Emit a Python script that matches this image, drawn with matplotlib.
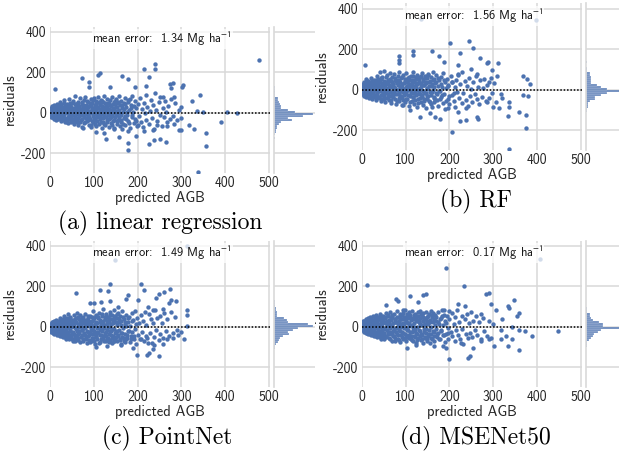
import matplotlib
matplotlib.use('Agg')
import matplotlib.pyplot as plt
import numpy as np

plt.rcParams.update({'font.family'         : 'cmss10',
                     'axes.unicode_minus'  : False,
                     'mathtext.fontset'    : 'stixsans',
                     'font.size'           : 10})

blue   = '#4c72b0'
gridc  = '0.85'
W, H   = 619., 457.

# ------------------------------- data
# residual vs predicted AGB, (predicted, residual)
linreg_pts = [
 (476,262),(240,243),(214,218),(239,218),(114,198),(109,185),(73,174),(165,184),(177,166),(225,179),
 (89,151),(12,116),(88,126),(137,125),(195,128),(220,131),(273,144),(280,148),(304,138),(301,128),
 (342,90),(275,121),(257,77),(284,77),(325,56),(298,28),(336,10),(350,3),(403,3),(427,-2),
 (391,-46),(317,-59),(298,-85),(329,-82),(355,-100),(355,-166),(337,-292),(179,-184),(177,-148),(238,-133),
 (250,-128),(227,-156),(265,-144),(294,-87),(283,-56),(268,-67),(245,-59),(236,-87),(197,-113),(157,-121),
 (128,-130),(104,-97),(124,-100),(177,-92),(215,-89),(75,-75),(94,-59),(147,-75),(200,-59),
 (2,5),(3,-8),(4,18),(5,-20),(6,30),(7,-3),(8,12),(9,-28),(10,40),(11,-15),(12,2),(13,22),
 (14,-35),(15,8),(16,45),(17,-10),(18,28),(19,-22),(20,0),(22,55),(23,15),(24,-40),(25,-5),(26,35),
 (27,20),(28,-25),(29,5),(30,-15),(32,48),(33,62),(34,-45),(35,10),(36,25),(37,-30),(38,-2),(40,38),
 (41,-50),(42,15),(44,70),(45,-20),(46,50),(47,0),(48,-38),(49,30),(50,-10),(52,60),(53,20),(54,-55),
 (55,5),(56,42),(57,-28),(58,85),(59,28),(60,-8),(62,-45),(63,55),(64,12),(65,-62),(66,35),(67,-18),
 (68,72),(69,0),(70,-35),(72,45),(73,-70),(74,18),(75,30),(76,-5),(77,62),(78,-50),(80,8),(81,80),
 (82,-25),(83,40),(84,-40),(85,22),(86,-12),(87,55),(88,-60),(89,5),(90,35),(92,-30),(93,68),(94,-72),
 (95,15),(96,48),(97,-15),(98,25),(99,-48),(100,75),(101,-5),(102,38),(103,-35),(104,58),(105,10),(106,-65),
 (107,30),(108,-20),(109,80),(110,0),(112,-55),(113,45),(114,20),(115,-30),(116,65),(117,-8),(118,-75),(119,35),
 (120,10),(121,-45),(122,55),(123,-18),(124,85),(125,25),(126,-60),(127,5),(128,40),(129,-35),(130,70),(132,-10),
 (133,50),(134,-70),(135,18),(136,-25),(137,62),(138,0),(139,-50),(140,35),(141,78),(142,-15),(143,20),(144,-40),
 (145,55),(146,-78),(147,8),(148,42),(149,-22),(150,68),(152,-55),(153,28),(154,-5),(155,48),(156,-35),(157,85),
 (158,12),(159,-65),(160,38),(161,-12),(162,60),(163,-45),(164,22),(165,-80),(166,2),(168,50),(169,-28),(170,75),
 (172,-60),(174,30),(175,-10),(177,55),(178,-40),(180,15),(182,70),(183,-75),(185,40),(186,-20),(188,85),(190,5),
 (191,-50),(193,60),(195,-30),(196,25),(198,-65),(200,45),(203,-15),(205,75),(207,-45),(210,20),(212,-70),(214,50),
 (216,0),(218,-35),(220,90),(222,30),(225,-55),(228,10),(230,65),(232,-25),(235,40),(238,-80),(240,100),(242,15),
 (245,-40),(248,55),(250,-10),(252,80),(255,-65),(258,25),(260,-20),(262,60),(265,5),(268,-45),(270,35),(274,-30),
 (276,70),(280,-15),(285,50),(290,-35),(295,15),(300,-25)]
linreg_core = [
 (1,12),(1,-10),(2,25),(3,-22),(4,0),(5,35),(6,-12),(7,20),(8,-30),(9,5),(10,-5),(11,28),(12,-25),(13,8),
 (14,15),(15,-18),(16,2),(17,32),(18,-30),(19,12),(20,22),(21,-12),(21,40),(22,-28),(23,-2),(24,18),(25,45),
 (26,-32),(27,5),(28,30),(29,-15),(30,12),(31,-38),(32,22),(33,-8),(34,35),(35,-28),(36,2),(37,18),(38,-45),
 (39,45),(40,8),(41,-20),(42,30),(43,-5),(44,-32),(45,38),(46,15),(47,-48),(48,22),(49,-18),(50,50),(51,0),
 (52,-30),(54,25),(55,-40),(56,12),(58,-15),(59,42),(60,20),(61,-35),(62,5),(64,-25),(65,48),(66,-2),(67,30),
 (68,-45),(70,15),(71,-12),(72,55),(74,-30),(75,0),(76,40),(78,-20),(79,25),(80,-45),(82,12),(83,-5),(84,58),
 (86,30),(87,-35),(88,10),(90,-20),(91,50),(92,0),(94,35),(95,-40),(96,18),(98,-8),(99,62),(100,-25),(102,12),
 (103,-55),(104,28),(106,45),(107,-10),(108,-40),(110,22),(111,55),(112,5),(114,-15),(115,38),(116,-45),(118,12),
 (119,60),(120,-25),(122,30),(123,-5),(124,-55),(126,48),(127,-20),(128,15),(130,-45),(131,30),(132,8),(134,50),
 (135,-30),(136,-5),(138,40),(139,-20),(140,12),(142,-60),(143,45),(144,0),(146,25),(147,-35),(148,60),(150,-10),
 (151,30),(152,-40),(154,10),(156,55),(158,-20),(160,0),(162,-35),(164,40),(166,-55),(168,20),(170,-15),(172,45),
 (174,-30),(176,5),(178,65),(180,-50),(184,25),(188,-10),(192,35),(196,-40)]

rf_pts = [
 (397,346),(136,348),(245,243),(202,233),(253,205),(225,182),(118,190),(117,174),(161,190),(85,165),
 (85,149),(85,130),(177,167),(270,156),(289,136),(285,130),(310,134),(188,138),(219,121),(7,121),
 (368,66),(378,52),(384,28),(380,-31),(369,-26),(336,-59),(336,-84),(358,-108),(376,-125),(333,-128),
 (376,-187),(335,-292),(205,-210),(132,-136),(167,-136),(179,-144),(224,-152),(238,-151),(262,-136),(266,-146),
 (314,-89),(299,-84),(287,-59),(321,-43),(317,-23),(308,69),(298,97),(291,39),(264,80),(249,105),
 (219,80),(238,-92),(219,-108),(196,-92),(92,-75),(111,-100),(155,-116),
 (2,10),(3,-12),(4,25),(5,-25),(6,40),(7,0),(8,15),(9,-35),(10,55),(11,-8),(12,30),(13,-20),
 (14,5),(15,45),(16,-40),(17,20),(18,-5),(19,35),(20,-28),(22,60),(23,10),(24,-45),(25,25),(26,-15),
 (27,50),(28,0),(29,-30),(30,38),(32,-50),(33,15),(34,70),(35,-20),(36,45),(37,-5),(38,28),(40,-38),
 (41,88),(42,8),(43,-55),(44,55),(45,20),(46,-25),(47,65),(48,-8),(49,35),(50,-45),(52,92),(53,12),
 (54,-60),(55,40),(56,-18),(57,72),(58,2),(59,-35),(60,50),(62,25),(63,-50),(64,85),(65,-10),(66,45),
 (67,-65),(68,15),(69,62),(70,-28),(72,30),(73,-5),(74,80),(75,-45),(76,50),(77,10),(78,-70),(80,35),
 (81,-20),(82,68),(83,0),(84,-55),(85,42),(86,90),(87,-30),(88,20),(89,-8),(90,58),(92,-42),(93,28),
 (94,-75),(95,75),(96,5),(97,-25),(98,45),(99,-60),(100,15),(101,82),(102,-12),(103,38),(104,-45),(105,60),
 (106,-3),(107,-80),(108,25),(109,50),(110,-30),(112,70),(113,-15),(114,32),(115,-55),(116,8),(117,88),(118,-38),
 (119,48),(120,-70),(121,18),(122,-5),(123,62),(124,-25),(125,35),(126,-85),(127,75),(128,0),(129,-48),(130,42),
 (132,-20),(133,65),(134,10),(135,-60),(136,30),(137,-35),(138,85),(139,-8),(140,52),(141,-75),(142,22),(143,-45),
 (144,70),(145,-15),(146,40),(147,-90),(148,5),(149,58),(150,-30),(152,80),(153,-55),(154,18),(155,-10),(156,45),
 (157,-70),(158,65),(159,-25),(160,28),(161,-85),(162,90),(163,0),(164,-40),(165,55),(166,-60),(168,35),(169,-15),
 (170,75),(172,-50),(174,20),(175,-78),(177,48),(178,-5),(180,62),(182,-35),(183,15),(185,-65),(186,82),(188,-20),
 (190,40),(191,-95),(193,8),(195,55),(196,-45),(198,25),(200,-70),(203,68),(205,-25),(207,38),(210,-55),(212,12),
 (214,-85),(216,50),(218,-10),(220,75),(222,-40),(225,30),(228,-65),(230,90),(232,-15),(235,45),(238,-50),(240,20),
 (242,-80),(245,60),(248,-30),(250,5),(252,-60),(255,40),(258,-20),(260,70),(262,-45),(265,15),(268,-70),(270,48),
 (274,-35),(276,10),(280,55),(283,-55),(286,25),(290,-40),(294,60),(298,-15),(302,35),(306,-60)]
rf_core = [
 (1,-8),(1,15),(2,-20),(3,28),(4,-2),(5,-32),(6,12),(7,-15),(8,32),(9,-5),(10,18),(11,-28),(12,42),(13,-10),
 (14,22),(15,-2),(16,30),(17,-25),(18,10),(19,-15),(20,40),(21,5),(21,-35),(22,25),(23,-18),(24,45),(25,-8),
 (26,15),(27,-38),(28,32),(29,-2),(30,20),(31,-25),(32,48),(33,5),(34,-35),(35,28),(36,-12),(37,52),(38,8),
 (39,-42),(40,20),(41,-5),(42,40),(43,-28),(44,15),(45,58),(46,-45),(47,25),(48,-15),(49,2),(50,45),(51,-32),
 (52,18),(54,-8),(55,62),(56,30),(58,-40),(59,10),(60,-20),(61,38),(62,-2),(64,55),(65,20),(66,-30),(67,-50),
 (68,40),(70,-10),(71,28),(72,-38),(74,12),(75,60),(76,-22),(78,45),(79,0),(80,-55),(82,22),(83,50),(84,-15),
 (86,-40),(87,10),(88,38),(90,-30),(91,65),(92,15),(94,-10),(95,-50),(96,32),(98,55),(99,-20),(100,5),(102,-45),
 (103,40),(104,18),(106,-25),(107,62),(108,8),(110,-60),(111,30),(112,-5),(114,48),(115,20),(116,-35),(118,70),
 (119,-15),(120,40),(122,-50),(123,12),(124,55),(126,-20),(127,28),(128,-65),(130,60),(131,-8),(132,35),(134,-40),
 (135,15),(136,68),(138,-25),(139,45),(140,-5),(142,25),(143,-55),(144,58),(146,-15),(147,35),(148,-45),(150,10),
 (151,72),(152,-30),(154,40),(156,-60),(158,20),(160,-10),(162,50),(164,-35),(166,15),(168,-50),(170,38),(172,-20),
 (174,60),(176,-5),(178,-45),(180,28),(184,-25),(188,50),(192,-55),(196,18),(200,-30),(205,40),(210,-15)]

pointnet_pts = [
 (312,400),(148,328),(208,211),(136,211),(114,180),(132,175),(60,166),(177,156),(215,180),(274,187),
 (261,170),(249,161),(242,141),(276,130),(287,125),(272,118),(92,118),(101,118),(117,121),(138,125),
 (156,97),(174,138),(200,131),(223,97),(236,85),(257,89),(312,85),(312,57),(312,2),(298,-26),
 (306,-59),(291,-43),(280,-54),(268,-62),(257,-85),(238,-89),(223,-79),(234,-111),(227,-128),(221,-138),
 (249,-146),(198,-139),(189,-105),(162,-87),(130,-95),(105,-100),(174,-62),(147,-70),(208,-62),
 (2,8),(3,-10),(4,18),(5,-18),(6,25),(7,-2),(8,12),(9,-28),(10,30),(11,-8),(12,5),(13,-20),
 (14,35),(15,15),(16,-35),(17,0),(18,22),(19,-12),(20,-40),(22,45),(23,8),(24,-25),(25,28),(26,-5),
 (27,-45),(28,15),(29,38),(30,-18),(32,55),(33,-30),(34,5),(35,-50),(36,25),(37,-12),(38,42),(40,-35),
 (41,65),(42,10),(43,-55),(44,30),(45,-20),(46,48),(47,-2),(48,-40),(49,20),(50,-60),(52,35),(53,-25),
 (54,60),(55,0),(56,-45),(57,22),(58,-70),(59,45),(60,-10),(62,70),(63,-35),(64,12),(65,-55),(66,38),
 (67,-20),(68,58),(69,-75),(70,5),(72,-42),(73,28),(74,-15),(75,50),(76,-60),(77,18),(78,-30),(80,65),
 (81,-5),(82,-50),(83,35),(84,-80),(85,10),(86,45),(87,-25),(88,-65),(89,22),(90,-40),(92,55),(93,-10),
 (94,-70),(95,30),(96,-35),(97,78),(98,0),(99,-55),(100,42),(101,-20),(102,-85),(103,15),(104,60),(105,-45),
 (106,25),(107,-5),(108,-62),(109,48),(110,-30),(112,70),(113,-15),(114,35),(115,-75),(116,8),(117,-40),(118,55),
 (119,-22),(120,20),(121,-60),(122,88),(123,-8),(124,-48),(125,40),(126,-30),(127,65),(128,-70),(129,12),(130,-15),
 (132,50),(133,-55),(134,25),(135,-35),(136,75),(137,0),(138,-65),(139,40),(140,-20),(141,60),(142,-80),(143,18),
 (144,-45),(145,85),(146,-10),(147,35),(148,-58),(149,52),(150,-28),(152,8),(153,-70),(154,45),(155,-40),(156,70),
 (157,-15),(158,22),(159,-62),(160,55),(161,-30),(162,-88),(163,30),(164,-50),(165,78),(166,-5),(168,40),(169,-72),
 (170,15),(172,-35),(174,60),(175,-55),(177,25),(178,-20),(180,50),(182,-75),(183,5),(185,-45),(186,68),(188,-25),
 (190,35),(191,-62),(193,80),(195,-10),(196,-85),(198,45),(200,-40),(203,20),(205,-60),(207,58),(210,-25),(212,30),
 (214,-70),(216,72),(218,-45),(220,10),(222,-55),(225,62),(228,-30),(230,38),(232,-78),(235,20),(238,-50),(240,85),
 (242,-15),(245,45),(248,-65),(250,55),(252,-35),(255,18),(258,-55),(260,70),(264,-20),(268,40),(272,-45),(276,75),
 (280,-30),(285,50),(290,-15)]
pointnet_core = [
 (1,10),(1,-12),(2,-25),(3,15),(4,-5),(5,22),(6,-30),(7,5),(8,-15),(9,18),(10,-35),(11,10),(12,-28),(13,25),
 (14,-8),(15,-40),(16,18),(17,-22),(18,5),(19,30),(20,-15),(21,-32),(21,12),(22,-48),(23,25),(24,-10),(25,10),
 (26,-35),(27,22),(28,-20),(29,-52),(30,30),(31,0),(32,-28),(33,18),(34,-42),(35,40),(36,-5),(37,-60),(38,15),
 (39,-25),(40,32),(41,-45),(42,0),(43,20),(44,-62),(45,45),(46,-15),(47,25),(48,-52),(49,8),(50,30),(51,-30),
 (52,-70),(54,15),(55,-35),(56,40),(58,-55),(59,-5),(60,25),(61,-42),(62,-20),(64,50),(65,-65),(66,0),(67,-30),
 (68,30),(70,-50),(71,18),(72,-15),(74,45),(75,-72),(76,-5),(78,35),(79,-40),(80,10),(82,-60),(83,25),(84,-20),
 (86,55),(87,-45),(88,5),(90,30),(91,-75),(92,-25),(94,15),(95,50),(96,-55),(98,-15),(99,35),(100,-68),(102,8),
 (103,-35),(104,55),(106,-50),(107,20),(108,-25),(110,42),(111,-78),(112,0),(114,-40),(115,25),(116,-58),(118,65),
 (119,-12),(120,-45),(122,30),(123,-70),(124,10),(126,50),(127,-25),(128,-48),(130,28),(131,-60),(132,0),(134,40),
 (135,-75),(136,-20),(138,60),(139,-40),(140,15),(142,-55),(143,35),(144,-10),(146,-68),(147,45),(148,-30),(150,25),
 (151,-50),(152,62),(154,-20),(156,-45),(158,38),(160,-65),(162,10),(164,-30),(166,50),(168,-55),(170,25),(172,-75),
 (174,5),(176,-40),(178,45),(180,-20),(184,-60),(188,30),(192,-45),(196,12)]

msenet_pts = [
 (407,334),(192,292),(12,205),(233,200),(291,167),(283,164),(147,164),(139,156),(111,154),(128,123),
 (79,138),(83,126),(55,107),(94,85),(348,134),(333,102),(336,93),(306,85),(295,110),(272,61),
 (321,36),(359,69),(355,52),(342,-2),(359,-16),(373,-20),(389,-44),(448,-20),(317,-16),(329,-46),
 (344,-62),(317,-62),(359,-116),(333,-95),(302,-95),(291,-62),(272,-70),(200,-161),(248,-143),(242,-152),
 (253,-103),(227,-79),(192,-103),(185,-95),(104,-103),(124,-92),(166,-95),(219,110),(236,102),(187,82),(200,77),
 (2,5),(3,-15),(4,20),(5,-8),(6,30),(7,-22),(8,10),(9,38),(10,-30),(11,0),(12,25),(13,-12),
 (14,45),(15,-38),(16,15),(17,-2),(18,35),(19,-25),(20,50),(22,-42),(23,8),(24,28),(25,-18),(26,55),
 (27,-48),(28,18),(29,-5),(30,40),(32,-30),(33,60),(34,2),(35,-52),(36,30),(37,-15),(38,48),(40,-40),
 (41,15),(42,62),(43,-25),(44,5),(45,-58),(46,38),(47,-8),(48,55),(49,-35),(50,22),(52,-62),(53,42),
 (54,-12),(55,68),(56,-45),(57,10),(58,30),(59,-28),(60,52),(62,-55),(63,18),(64,-5),(65,75),(66,-38),
 (67,35),(68,-68),(69,5),(70,48),(72,-20),(73,62),(74,-48),(75,25),(76,-70),(77,40),(78,-8),(80,80),
 (81,-35),(82,15),(83,-58),(84,50),(85,-15),(86,30),(87,-75),(88,65),(89,0),(90,-42),(92,38),(93,-25),
 (94,70),(95,-62),(96,12),(97,48),(98,-35),(99,82),(100,-5),(101,-72),(102,28),(103,55),(104,-50),(105,18),
 (106,-18),(107,75),(108,-40),(109,5),(110,60),(112,-60),(113,35),(114,-28),(115,78),(116,-8),(117,45),(118,-70),
 (119,20),(120,-45),(121,65),(122,-15),(123,32),(124,-82),(125,52),(126,0),(127,-35),(128,72),(129,-55),(130,25),
 (132,45),(133,-22),(134,80),(135,-65),(136,10),(137,55),(138,-40),(139,30),(140,-78),(141,68),(142,-10),(143,40),
 (144,-55),(145,15),(146,75),(147,-30),(148,50),(149,-68),(150,20),(152,-45),(153,62),(154,-15),(155,35),(156,-80),
 (157,78),(158,0),(159,-38),(160,48),(161,-60),(162,25),(163,70),(164,-25),(165,40),(166,-72),(168,58),(169,-10),
 (170,30),(172,-50),(174,75),(175,-30),(177,15),(178,-62),(180,45),(182,-20),(183,82),(185,-42),(186,8),(188,60),
 (190,-75),(191,28),(193,-35),(195,55),(196,-5),(198,-58),(200,38),(203,-25),(205,70),(207,-48),(210,15),(212,-70),
 (214,50),(216,-15),(218,85),(220,-40),(222,25),(225,-60),(228,55),(230,-10),(232,-85),(235,40),(238,-35),(240,65),
 (242,-55),(245,20),(248,-30),(250,75),(252,-50),(255,30),(258,-15),(260,55),(264,-40),(268,25),(272,-60),(276,45),
 (280,-20),(285,-45),(290,30),(295,-55),(300,15)]
msenet_core = [
 (1,8),(1,-5),(2,18),(3,-18),(4,28),(5,2),(6,-25),(7,12),(8,-8),(9,22),(10,-18),(11,35),(12,-2),(13,-30),
 (14,18),(15,5),(16,-22),(17,40),(18,-10),(19,8),(20,-35),(21,25),(21,-15),(22,42),(23,-28),(24,0),(25,20),
 (26,-40),(27,35),(28,-12),(29,12),(30,-25),(31,48),(32,5),(33,-45),(34,25),(35,-5),(36,45),(37,-32),(38,10),
 (39,-20),(40,38),(41,-50),(42,-2),(43,28),(44,-35),(45,55),(46,15),(47,-22),(48,-45),(49,40),(50,-5),(51,25),
 (52,-30),(54,50),(55,-50),(56,20),(58,-15),(59,60),(60,-38),(61,5),(62,35),(64,-25),(65,-60),(66,45),(67,10),
 (68,-30),(70,58),(71,-45),(72,20),(74,-10),(75,40),(76,-55),(78,25),(79,-25),(80,50),(82,-40),(83,0),(84,30),
 (86,-65),(87,45),(88,-20),(90,15),(91,-50),(92,60),(94,-30),(95,20),(96,-8),(98,-55),(99,40),(100,25),(102,-40),
 (103,65),(104,-15),(106,42),(107,-55),(108,20),(110,-25),(111,50),(112,-45),(114,10),(115,-65),(116,38),(118,-20),
 (119,58),(120,0),(122,-50),(123,45),(124,-30),(126,28),(127,-65),(128,55),(130,-15),(131,35),(132,-48),(134,15),
 (135,62),(136,-35),(138,-60),(139,28),(140,50),(142,-25),(143,10),(144,-50),(146,45),(147,-10),(148,30),(150,-60),
 (151,15),(152,55),(154,-35),(156,25),(158,-55),(160,60),(162,-20),(164,35),(166,-45),(168,10),(170,50),(172,-35),
 (174,25),(176,-60),(178,40),(180,-15),(184,52),(188,-40),(192,20),(196,-30)]

# marginal histograms: bin centres (residual) and bar lengths
hist_centres  = [-135,-125,-115,-105,-95,-85,-75,-65,-55,-45,-35,-25,-15,-5,
                 5,15,25,35,45,55,65,75,85,95,105,115,125,135]
linreg_hist   = [0,2,0,2,5,5,8,10,16,22,52,42,85,115,62,40,22,20,17,14,12,12,4,3,3,2,2,0]
rf_hist       = [2,0,2,3,5,6,8,8,12,26,27,45,62,115,62,45,33,15,15,15,15,13,13,5,5,2,2,3]
pointnet_hist = [0,0,0,3,3,7,12,14,18,28,45,40,55,72,115,100,42,38,30,10,10,8,6,6,3,3,3,0]
msenet_hist   = [0,0,0,2,3,3,5,10,15,22,25,36,45,115,52,52,40,22,15,13,13,5,3,3,2,2,0,0]

mean_errors = ['1.34', '1.56', '1.49', '0.17']
captions    = ['(a) linear regression', '(b) RF', '(c) PointNet', '(d) MSENet50']
xticks      = [0, 100, 200, 300, 400, 500]
yticks      = [-200, 0, 200, 400]
# -------------------------------


def pbox(x0, y0, x1, y1):
    # pixel box (top-left origin) -> figure fraction
    return [x0/W, 1 - y1/H, (x1 - x0)/W, (y1 - y0)/H]


def style(ax):
    for s in ax.spines.values():
        s.set_visible(False)
    ax.grid(True, color=gridc, lw=1.1)
    ax.set_axisbelow(True)
    ax.tick_params(length=0, pad=2.5, colors='0.15', labelsize=10)


def panel(fig, px, py, pts, hist, err, cap, capx, capy):
    ax  = fig.add_axes(pbox(px, py, px + 220, py + 146))
    axm = fig.add_axes(pbox(px + 224, py, px + 265, py + 146), sharey=ax)
    pred, resid = np.array(pts).T

    style(ax)
    ax.scatter(pred, resid, s=10, color=blue, linewidths=0, zorder=3)
    ax.axhline(0, color='k', lw=1.1, ls=(0, (1, 1.2)), zorder=4)
    ax.set_xlim(0, 502)
    ax.set_ylim(-295, 426)
    ax.set_xticks(xticks)
    ax.set_yticks(yticks)
    ax.set_xlabel('predicted AGB', labelpad=1.0, color='0.15', fontsize=10.5)
    ax.set_ylabel('residuals', labelpad=3, color='0.15', fontsize=10.5)
    ax.text(0.51, 0.915, 'mean error:  ' + err + r' Mg ha$^{-1}$', transform=ax.transAxes,
            ha='center', va='center', fontsize=9, color='0.1', zorder=5,
            bbox=dict(facecolor='white', edgecolor='none', alpha=0.75, pad=0.5))

    style(axm)
    axm.barh(hist_centres, hist, height=10, color=blue, alpha=0.85,
             edgecolor='white', linewidth=0.2)
    axm.set_xlim(0, max(hist) / 0.95)
    axm.set_xticks([])
    axm.tick_params(labelleft=False)
    axm.spines['left'].set_visible(True)
    axm.spines['left'].set_color(gridc)
    axm.spines['left'].set_linewidth(1.2)

    fig.text(capx / W, 1 - capy / H, cap, family='cmr10', fontsize=17,
             ha='center', va='center', color='k')


fig = plt.figure(figsize=(W / 100, H / 100), dpi=100)
panel(fig,  50.0, 26.5, linreg_pts + linreg_core,   linreg_hist,   mean_errors[0], captions[0], 160, 223)
panel(fig, 361.7,  3.5, rf_pts + rf_core,           rf_hist,       mean_errors[1], captions[1], 476, 201)
panel(fig,  50.0, 240.5, pointnet_pts + pointnet_core, pointnet_hist, mean_errors[2], captions[2], 167, 438)
panel(fig, 361.7, 240.5, msenet_pts + msenet_core,   msenet_hist,   mean_errors[3], captions[3], 475, 438)

fig.savefig('out.png', dpi=100)
